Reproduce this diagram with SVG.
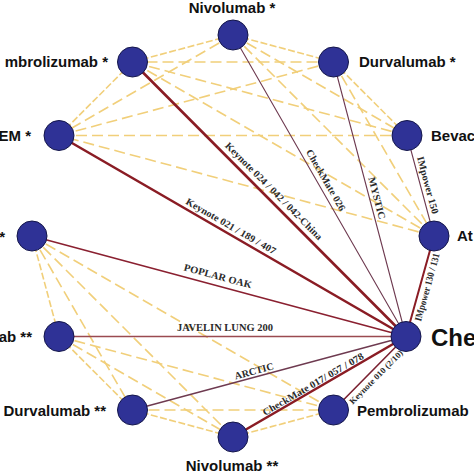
<svg xmlns="http://www.w3.org/2000/svg" width="474" height="474" viewBox="0 0 474 474">
<style>
.y{stroke:#f1cf7a;stroke-width:1.6;fill:none}
.ya{stroke-dasharray:7 2.5}
.yl{stroke-dasharray:11 5}
.s{fill:none;stroke-linecap:round}
.thick{stroke:#8a1c24;stroke-width:2.6}
.med{stroke:#8a2030;stroke-width:1.6}
.thin{stroke:#6e3a50;stroke-width:1.1}
.node{fill:#2f3296;stroke:#14164a;stroke-width:1}
.nl{font-family:"Liberation Sans",Arial,sans-serif;font-weight:bold;font-size:15px;fill:#111}
.el{font-family:"Liberation Serif","Times New Roman",serif;font-weight:bold;font-size:10px;fill:#2b2b2b;text-anchor:middle}
</style>
<rect width="474" height="474" fill="#ffffff"/>
<g id="connectors">
<g id="yellow-top">
<line class="y ya" x1="233" y1="35" x2="333.5" y2="62"/>
<line class="y ya" x1="333.5" y1="62" x2="407" y2="135.5"/>
<line class="y ya" x1="59" y1="135.5" x2="132.5" y2="62"/>
<line class="y ya" x1="132.5" y1="62" x2="233" y2="35"/>
<line class="y yl" x1="233" y1="35" x2="407" y2="135.5"/>
<line class="y yl" x1="233" y1="35" x2="434" y2="236"/>
<line class="y yl" x1="233" y1="35" x2="59" y2="135.5"/>
<line class="y yl" x1="333.5" y1="62" x2="434" y2="236"/>
<line class="y yl" x1="333.5" y1="62" x2="59" y2="135.5"/>
<line class="y yl" x1="333.5" y1="62" x2="132.5" y2="62"/>
<line class="y yl" x1="407" y1="135.5" x2="59" y2="135.5"/>
<line class="y yl" x1="407" y1="135.5" x2="132.5" y2="62"/>
<line class="y yl" x1="434" y1="236" x2="59" y2="135.5"/>
<line class="y yl" x1="434" y1="236" x2="132.5" y2="62"/>
</g>
<g id="yellow-bottom">
<line class="y ya" x1="32" y1="236" x2="59" y2="336.5"/>
<line class="y ya" x1="59" y1="336.5" x2="132.5" y2="410"/>
<line class="y ya" x1="132.5" y1="410" x2="233" y2="437"/>
<line class="y ya" x1="233" y1="437" x2="333.5" y2="410"/>
<line class="y yl" x1="32" y1="236" x2="132.5" y2="410"/>
<line class="y yl" x1="32" y1="236" x2="233" y2="437"/>
<line class="y yl" x1="32" y1="236" x2="333.5" y2="410"/>
<line class="y yl" x1="59" y1="336.5" x2="233" y2="437"/>
<line class="y yl" x1="59" y1="336.5" x2="333.5" y2="410"/>
<line class="y yl" x1="132.5" y1="410" x2="333.5" y2="410"/>
</g>
<g id="trials">
<line class="s thick" x1="132.5" y1="62" x2="406" y2="336.5"/>
<line class="s thick" x1="59" y1="135.5" x2="406" y2="336.5"/>
<line class="s thin" x1="233" y1="35" x2="406" y2="336.5"/>
<line class="s thin" x1="333.5" y1="62" x2="406" y2="336.5"/>
<line class="s thin" x1="407" y1="135.5" x2="434" y2="236"/>
<line class="s thick" style="stroke-width:2" x1="434" y1="236" x2="406" y2="336.5"/>
<line class="s med" x1="32" y1="236" x2="406" y2="336.5"/>
<line class="s med" style="stroke:#9a4a50;stroke-width:1.3" x1="59" y1="336.5" x2="406" y2="336.5"/>
<line class="s thin" style="stroke-width:1.3" x1="132.5" y1="410" x2="406" y2="336.5"/>
<line class="s thick" x1="233" y1="437" x2="406" y2="336.5"/>
<line class="s med" style="stroke:#7a2030" x1="333.5" y1="410" x2="406" y2="336.5"/>
</g>
<g id="trial-labels">
<text class="el" transform="translate(274,191) rotate(45.1)" y="3.5" textLength="133" lengthAdjust="spacingAndGlyphs">Keynote 024 / 042 / 042-China</text>
<text class="el" transform="translate(231,226) rotate(30.1)" y="3.5" textLength="102" lengthAdjust="spacingAndGlyphs">Keynote 021 / 189 / 407</text>
<text class="el" transform="translate(326,180) rotate(60.1)" y="3.5" textLength="69" lengthAdjust="spacingAndGlyphs">CheckMate 026</text>
<text class="el" transform="translate(377,198) rotate(75.2)" y="3.5" textLength="43" lengthAdjust="spacingAndGlyphs">MYSTIC</text>
<text class="el" transform="translate(428,185) rotate(75)" y="3.5" textLength="59" lengthAdjust="spacingAndGlyphs">IMpower 150</text>
<text class="el" transform="translate(427,287) rotate(-74.4)" y="3.5" textLength="70" lengthAdjust="spacingAndGlyphs">IMpower 130 / 131</text>
<text class="el" transform="translate(218,276) rotate(15)" y="3.5" textLength="70" lengthAdjust="spacingAndGlyphs">POPLAR  OAK</text>
<text class="el" transform="translate(225,327)" y="3.5" textLength="96" lengthAdjust="spacingAndGlyphs">JAVELIN LUNG 200</text>
<text class="el" transform="translate(254,371) rotate(-15)" y="3.5" textLength="40" lengthAdjust="spacingAndGlyphs">ARCTIC</text>
<text class="el" transform="translate(313,384) rotate(-30.15)" y="3.5" textLength="115" lengthAdjust="spacingAndGlyphs">CheckMate 017/ 057 / 078</text>
<text class="el" style="font-size:8.5px" transform="translate(376,377) rotate(-45.4)" y="3" textLength="72" lengthAdjust="spacingAndGlyphs">Keynote 010 (2/10)</text>
</g>
</g>
<g id="n-nivolumab1"><circle class="node" cx="233" cy="35" r="15"/><text class="nl" x="232" y="13" text-anchor="middle">Nivolumab *</text></g>
<g id="n-durvalumab1"><circle class="node" cx="333.5" cy="62" r="15"/><text class="nl" x="359" y="67">Durvalumab *</text></g>
<g id="n-bevac"><circle class="node" cx="407" cy="135.5" r="15"/><text class="nl" x="431" y="141">Bevac</text></g>
<g id="n-at"><circle class="node" cx="434" cy="236" r="15"/><text class="nl" x="457" y="241">At</text></g>
<g id="n-che"><circle class="node" cx="406" cy="336.5" r="15"/><text class="nl" style="font-size:24px" x="431" y="346">Che</text></g>
<g id="n-pembrolizumab2"><circle class="node" cx="333.5" cy="410" r="15"/><text class="nl" x="357" y="416">Pembrolizumab</text></g>
<g id="n-nivolumab2"><circle class="node" cx="233" cy="437" r="15"/><text class="nl" x="232" y="471" text-anchor="middle">Nivolumab **</text></g>
<g id="n-durvalumab2"><circle class="node" cx="132.5" cy="410" r="15"/><text class="nl" x="106" y="416" text-anchor="end">Durvalumab **</text></g>
<g id="n-ab2"><circle class="node" cx="59" cy="336.5" r="15"/><text class="nl" x="32" y="342" text-anchor="end">ab **</text></g>
<g id="n-star"><circle class="node" cx="32" cy="236" r="15"/><text class="nl" x="5" y="242" text-anchor="end">*</text></g>
<g id="n-em"><circle class="node" cx="59" cy="135.5" r="15"/><text class="nl" x="31" y="141" text-anchor="end">EM *</text></g>
<g id="n-pembrolizumab1"><circle class="node" cx="132.5" cy="62" r="15"/><text class="nl" x="108" y="67" text-anchor="end">mbrolizumab *</text></g>
</svg>
